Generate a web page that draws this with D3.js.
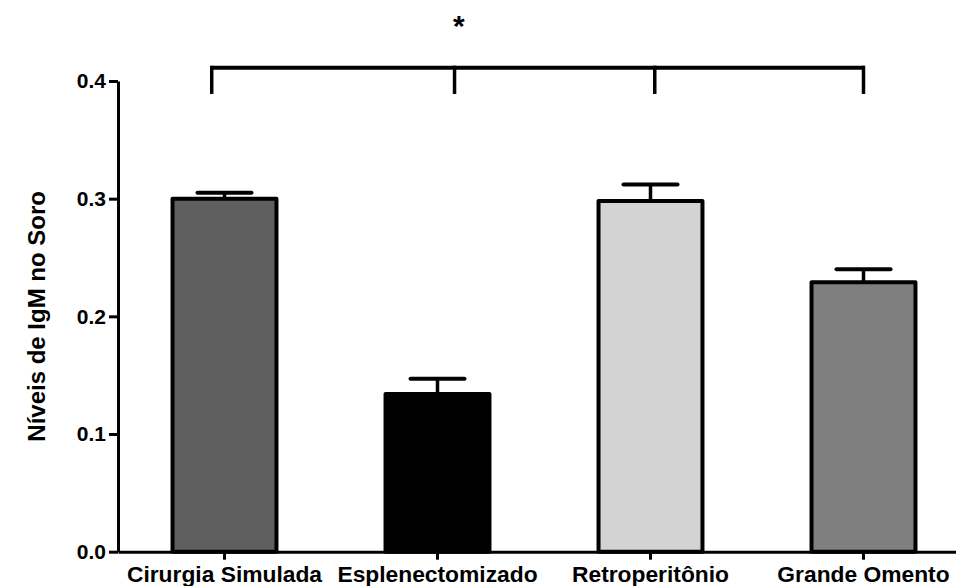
<!DOCTYPE html>
<html>
<head>
<meta charset="utf-8">
<script src="https://cdn.jsdelivr.net/npm/d3@7"></script>
<style>
  html, body { margin: 0; padding: 0; background: #fff; }
  svg { display: block; }
  text { font-family: "Liberation Sans", Arial, Helvetica, sans-serif; font-weight: bold; fill: #000; }
</style>
</head>
<body>
<svg id="chart" width="956" height="586"></svg>
<script>
// ---- data ----
const categories = ["Cirurgia Simulada", "Esplenectomizado", "Retroperitônio", "Grande Omento"];
const means = [0.300, 0.134, 0.298, 0.229];
const errors = [0.005, 0.013, 0.014, 0.011];
const fills = ["#5f5f5f", "#000000", "#d3d3d3", "#7f7f7f"];
const yTicks = [0.0, 0.1, 0.2, 0.3, 0.4];
const yLabel = "Níveis de IgM no Soro";
// significance bracket (category-index units and value units)
const bracketAnchors = [-0.06, 1.08, 2.02, 3.0];
const bracketLevel = 0.4113;
const bracketLegEnd = 0.389;
const starLevel = 0.438;
const starText = "*";

(function () {
// ---- layout ----
const mLeft = 118, mBottom = 551.7, mTop = 81, mRightEnd = 970;

const svg = d3.select("#chart");

const y = d3.scaleLinear().domain([0, 0.4]).range([mBottom, mTop]);
const x = d3.scaleBand().domain(categories).range([mLeft, mRightEnd])
  .paddingInner(0.512).paddingOuter(0.256);
const step = x.step();
const c0 = x(categories[0]) + x.bandwidth() / 2;
const xIdx = d3.scaleLinear().domain([0, 1]).range([c0, c0 + step]);

const data = categories.map((c, i) => ({ c, m: means[i], e: errors[i], f: fills[i] }));

// error bars (behind bars)
const eb = svg.append("g");
data.forEach(d => {
  const cx = x(d.c) + x.bandwidth() / 2;
  eb.append("line").attr("x1", cx).attr("x2", cx).attr("y1", y(d.m)).attr("y2", y(d.m + d.e))
    .attr("stroke", "#000").attr("stroke-width", 3.5);
  eb.append("line").attr("x1", cx - x.bandwidth() * 0.26).attr("x2", cx + x.bandwidth() * 0.26)
    .attr("y1", y(d.m + d.e)).attr("y2", y(d.m + d.e))
    .attr("stroke", "#000").attr("stroke-width", 4).attr("stroke-linecap", "round");
});

// bars
svg.append("g").selectAll("rect").data(data).join("rect")
  .attr("x", d => x(d.c))
  .attr("width", x.bandwidth())
  .attr("y", d => y(d.m))
  .attr("height", d => y(0) - y(d.m))
  .attr("fill", d => d.f)
  .attr("stroke", "#000")
  .attr("stroke-width", 4)
  .attr("stroke-linejoin", "round");

// y axis
const yAxis = svg.append("g").attr("transform", `translate(${mLeft},0)`)
  .call(d3.axisLeft(y).tickValues(yTicks).tickFormat(d3.format(".1f")).tickSize(9).tickSizeOuter(0).tickPadding(3));
yAxis.select(".domain").attr("stroke", "#000").attr("stroke-width", 3);
yAxis.selectAll(".tick line").attr("stroke", "#000").attr("stroke-width", 3);
yAxis.selectAll(".tick text").style("font-size", "21px").style("font-family", "Liberation Sans, Arial, sans-serif")
  .style("font-weight", "bold").attr("fill", "#000");

// x axis
const xAxis = svg.append("g").attr("transform", `translate(0,${mBottom})`)
  .call(d3.axisBottom(x).tickSize(8).tickSizeOuter(0).tickPadding(6));
xAxis.select(".domain").attr("stroke", "#000").attr("stroke-width", 3);
xAxis.selectAll(".tick line").attr("stroke", "#000").attr("stroke-width", 3);
xAxis.selectAll(".tick text").style("font-size", "22.8px").style("font-family", "Liberation Sans, Arial, sans-serif")
  .style("font-weight", "bold").attr("fill", "#000");

// y label
svg.append("text")
  .attr("transform", `translate(36,${(mTop + mBottom) / 2}) rotate(-90)`)
  .attr("text-anchor", "middle")
  .attr("dominant-baseline", "central")
  .style("font-size", "24px")
  .text(yLabel);

// bracket
const bx = bracketAnchors.map(a => xIdx(a));
const br = svg.append("g").attr("stroke", "#000").attr("fill", "none");
br.append("line").attr("x1", bx[0]).attr("x2", bx[bx.length - 1])
  .attr("y1", y(bracketLevel)).attr("y2", y(bracketLevel)).attr("stroke-width", 4);
bx.forEach(v => {
  br.append("line").attr("x1", v).attr("x2", v)
    .attr("y1", y(bracketLevel) - 2).attr("y2", y(bracketLegEnd)).attr("stroke-width", 3.5);
});
svg.append("text")
  .attr("x", xIdx(1.1)).attr("y", y(starLevel))
  .attr("text-anchor", "middle")
  .style("font-size", "30px")
  .text(starText);
})();
</script>
</body>
</html>
